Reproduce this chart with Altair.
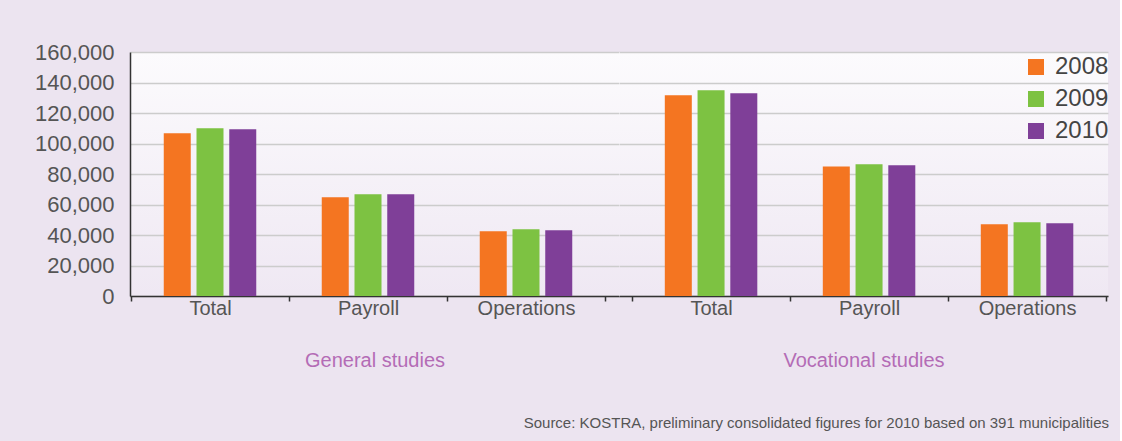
import altair as alt
import pandas as pd

categories = ["Total", "Payroll", "Operations"]
years = ["2008", "2009", "2010"]
general_2008 = [106700, 64700, 42400]
general_2009 = [110000, 66700, 43700]
general_2010 = [109300, 66700, 43100]
vocational_2008 = [131600, 85000, 47000]
vocational_2009 = [134900, 86400, 48300]
vocational_2010 = [132900, 85700, 47700]
y_ticks = [0, 20000, 40000, 60000, 80000, 100000, 120000, 140000, 160000]
year_colors = ["#f47521", "#7dc242", "#7f3f98"]
source_text = "Source: KOSTRA, preliminary consolidated figures for 2010 based on 391 municipalities"


def frame(series):
    rows = []
    for year, vals in zip(years, series):
        for cat, v in zip(categories, vals):
            rows.append({"category": cat, "year": year, "value": v})
    return pd.DataFrame(rows)


gen_df = frame([general_2008, general_2009, general_2010])
voc_df = frame([vocational_2008, vocational_2009, vocational_2010])

FONT = "Liberation Sans"
TXT = "#555555"

color = alt.Color(
    "year:N",
    scale=alt.Scale(domain=years, range=year_colors),
    legend=alt.Legend(
        title=None,
        orient="none",
        legendX=894,
        legendY=3,
        symbolType="square",
        symbolSize=256,
        symbolStrokeWidth=0,
        symbolOpacity=1,
        labelFontSize=24,
        labelColor="#444444",
        labelFont=FONT,
        rowPadding=8,
        labelOffset=7,
    ),
)


def panel(df, title, align, show_y):
    x_axis = alt.Axis(
        title=title,
        titleFontSize=20,
        titleFont=FONT,
        titleFontWeight="normal",
        titleColor="#b46cb6",
        titlePadding=32,
        labelFontSize=20,
        labelColor=TXT,
        labelFont=FONT,
        labelAngle=0,
        labelPadding=-3,
        tickBand="extent",
        tickSize=5,
        tickColor="#333333",
        tickWidth=1.5,
        domainColor="#333333",
        domainWidth=1.5,
        grid=False,
    )
    if show_y:
        y_axis = alt.Axis(
            title=None,
            values=y_ticks,
            format=",d",
            labelFontSize=22,
            labelColor=TXT,
            labelFont=FONT,
            labelPadding=16,
            ticks=False,
            domainColor="#333333",
            domainWidth=1.5,
            gridColor="#cccccc",
            gridWidth=1.4,
        )
    else:
        y_axis = alt.Axis(
            title=None,
            values=y_ticks,
            labels=False,
            ticks=False,
            domain=False,
            gridColor="#cccccc",
            gridWidth=1.4,
        )
    return (
        alt.Chart(df)
        .mark_bar()
        .encode(
            x=alt.X(
                "category:N",
                sort=categories,
                scale=alt.Scale(paddingInner=0, paddingOuter=0.0475, align=align),
                axis=x_axis,
            ),
            xOffset=alt.XOffset(
                "year:N",
                sort=years,
                scale=alt.Scale(paddingInner=0.1756, paddingOuter=1),
            ),
            y=alt.Y(
                "value:Q",
                scale=alt.Scale(domain=[0, 160000], nice=False),
                axis=y_axis,
            ),
            color=color,
        )
        .properties(width=489, height=244)
    )


left = panel(gen_df, "General studies", 0.067, True)
right = panel(voc_df, "Vocational studies", 0.87, False)

gradient_expr = (
    "{gradient: 'linear', x1: 0, y1: 0, x2: 0, y2: 1, "
    "stops: [{offset: 0, color: '#fcfbfd'}, {offset: 1, color: '#efe8f3'}]}"
)

chart = (
    alt.hconcat(left, right, spacing=0)
    .properties(
        title=alt.Title(
            source_text,
            orient="bottom",
            anchor="end",
            fontSize=15,
            font=FONT,
            fontWeight="normal",
            color=TXT,
            offset=46,
        ),
        padding={"left": 34, "top": 41, "right": 11, "bottom": 10},
        background="#ece4f0",
    )
    .configure_view(stroke=None, fill=alt.ExprRef(expr=gradient_expr))
)

chart.save("out.html", embed_options={"renderer": "svg", "actions": False})
